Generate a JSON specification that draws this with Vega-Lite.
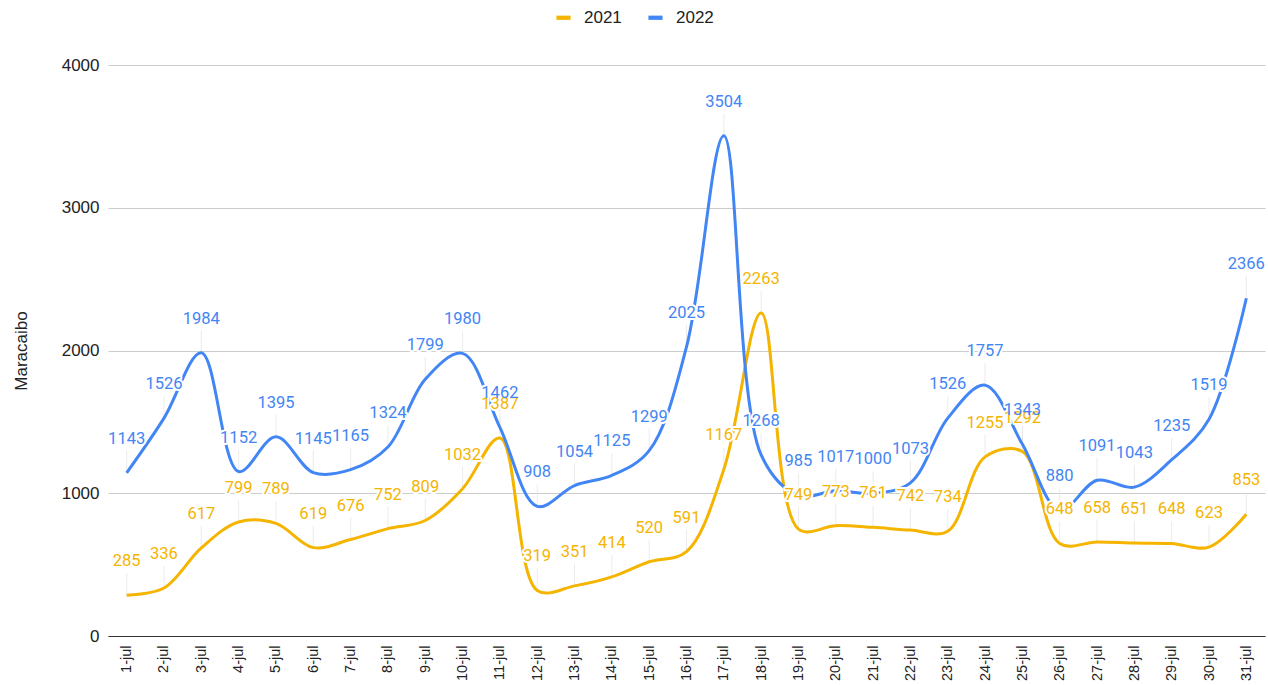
{
  "$schema": "https://vega.github.io/schema/vega-lite/v6.json",
  "autosize": "none",
  "width": 1157,
  "height": 571,
  "padding": {"left": 108, "top": 65, "right": 3, "bottom": 49},
  "background": "white",
  "config": {
    "font": "Roboto",
    "view": {"stroke": null}
  },
  "data": {
    "values": [
      {"d":"1-jul","y":"2021","v":285},{"d":"2-jul","y":"2021","v":336},{"d":"3-jul","y":"2021","v":617},{"d":"4-jul","y":"2021","v":799},{"d":"5-jul","y":"2021","v":789},{"d":"6-jul","y":"2021","v":619},{"d":"7-jul","y":"2021","v":676},{"d":"8-jul","y":"2021","v":752},{"d":"9-jul","y":"2021","v":809},{"d":"10-jul","y":"2021","v":1032},{"d":"11-jul","y":"2021","v":1387},{"d":"12-jul","y":"2021","v":319},{"d":"13-jul","y":"2021","v":351},{"d":"14-jul","y":"2021","v":414},{"d":"15-jul","y":"2021","v":520},{"d":"16-jul","y":"2021","v":591},{"d":"17-jul","y":"2021","v":1167},{"d":"18-jul","y":"2021","v":2263},{"d":"19-jul","y":"2021","v":749},{"d":"20-jul","y":"2021","v":773},{"d":"21-jul","y":"2021","v":761},{"d":"22-jul","y":"2021","v":742},{"d":"23-jul","y":"2021","v":734},{"d":"24-jul","y":"2021","v":1255},{"d":"25-jul","y":"2021","v":1292},{"d":"26-jul","y":"2021","v":648},{"d":"27-jul","y":"2021","v":658},{"d":"28-jul","y":"2021","v":651},{"d":"29-jul","y":"2021","v":648},{"d":"30-jul","y":"2021","v":623},{"d":"31-jul","y":"2021","v":853},
      {"d":"1-jul","y":"2022","v":1143},{"d":"2-jul","y":"2022","v":1526},{"d":"3-jul","y":"2022","v":1984},{"d":"4-jul","y":"2022","v":1152},{"d":"5-jul","y":"2022","v":1395},{"d":"6-jul","y":"2022","v":1145},{"d":"7-jul","y":"2022","v":1165},{"d":"8-jul","y":"2022","v":1324},{"d":"9-jul","y":"2022","v":1799},{"d":"10-jul","y":"2022","v":1980},{"d":"11-jul","y":"2022","v":1462},{"d":"12-jul","y":"2022","v":908},{"d":"13-jul","y":"2022","v":1054},{"d":"14-jul","y":"2022","v":1125},{"d":"15-jul","y":"2022","v":1299},{"d":"16-jul","y":"2022","v":2025},{"d":"17-jul","y":"2022","v":3504},{"d":"18-jul","y":"2022","v":1268},{"d":"19-jul","y":"2022","v":985},{"d":"20-jul","y":"2022","v":1017},{"d":"21-jul","y":"2022","v":1000},{"d":"22-jul","y":"2022","v":1073},{"d":"23-jul","y":"2022","v":1526},{"d":"24-jul","y":"2022","v":1757},{"d":"25-jul","y":"2022","v":1343},{"d":"26-jul","y":"2022","v":880},{"d":"27-jul","y":"2022","v":1091},{"d":"28-jul","y":"2022","v":1043},{"d":"29-jul","y":"2022","v":1235},{"d":"30-jul","y":"2022","v":1519},{"d":"31-jul","y":"2022","v":2366}
    ]
  },
  "encoding": {
    "x": {
      "field": "d", "type": "nominal", "sort": null,
      "scale": {"type": "point", "padding": 0.5},
      "axis": {"title": null, "labelAngle": -90, "labelFont": "Liberation Sans", "labelFontSize": 14.5, "labelColor": "#222", "labelPadding": 9, "ticks": false, "domainColor": "#333", "domainWidth": 1.2, "grid": false}
    },
    "y": {
      "field": "v", "type": "quantitative",
      "scale": {"domain": [0, 4000], "nice": false},
      "axis": {"title": "Maracaibo", "titleFont": "Liberation Sans", "titleFontSize": 17, "titleFontWeight": "normal", "titleColor": "#222", "titlePadding": 31, "values": [0,1000,2000,3000,4000], "format": "d", "labelFont": "Liberation Sans", "labelFontSize": 17, "labelColor": "#222", "labelPadding": 9, "ticks": false, "domain": false, "gridColor": "#cccccc", "gridWidth": 1}
    },
    "color": {
      "field": "y", "type": "nominal",
      "scale": {"domain": ["2021", "2022"], "range": ["#F4B400", "#4285F4"]},
      "legend": {"title": null, "orient": "none", "legendX": 447, "legendY": -56, "direction": "horizontal", "labelFont": "Liberation Sans", "labelFontSize": 17, "labelColor": "#222", "symbolType": "M-1,-0.3H1V0.3H-1Z", "symbolSize": 200, "symbolStrokeWidth": 0, "columnPadding": 25, "labelOffset": 12}
    }
  },
  "layer": [
    {"mark": {"type": "tick", "orient": "vertical", "size": 22, "yOffset": -11, "color": "#e3e3e3", "thickness": 1}, "encoding": {"color": {"value": "#e3e3e3"}}},
    {"mark": {"type": "line", "interpolate": "catmull-rom", "strokeWidth": 3}},
    {"mark": {"type": "text", "dy": -34, "fontSize": 16.5, "stroke": "white", "strokeWidth": 4, "strokeJoin": "round"}, "encoding": {"text": {"field": "v"}, "color": {"value": "white"}}},
    {"mark": {"type": "text", "dy": -34, "fontSize": 16.5}, "encoding": {"text": {"field": "v"}}}
  ]
}
